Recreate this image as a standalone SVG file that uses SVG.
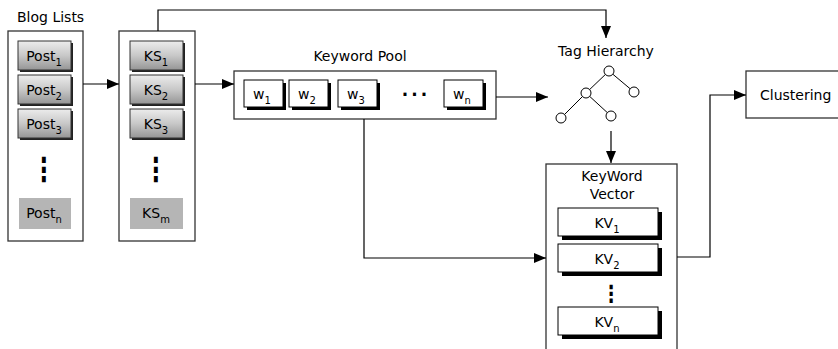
<svg xmlns="http://www.w3.org/2000/svg" width="838" height="349" viewBox="0 0 838 349">
  <defs>
    <linearGradient id="btnGrad" x1="0" y1="0" x2="0" y2="1">
      <stop offset="0" stop-color="#ececec"/>
      <stop offset="0.5" stop-color="#c8c8c8"/>
      <stop offset="1" stop-color="#959595"/>
    </linearGradient>
    <marker id="arrow" viewBox="0 0 12 10" refX="12" refY="5" markerWidth="12" markerHeight="10" markerUnits="userSpaceOnUse" orient="auto">
      <path d="M0,0 L12,5 L0,10 Z" fill="#000"/>
    </marker>
  </defs>
  <style>
    text { font-family: "DejaVu Sans", Verdana, sans-serif; fill: #000; }
    .title { font-size: 14px; }
    .lbl { font-size: 14px; text-anchor: middle; }
    .sub { font-size: 10px; }
    .dots { font-size: 17px; font-weight: bold; text-anchor: middle; }
    .vdots { font-size: 22px; font-weight: bold; text-anchor: middle; }
    .frame { fill: #fff; stroke: #333; stroke-width: 1.3; }
    .btn { fill: url(#btnGrad); stroke: #333; stroke-width: 1; }
    .btnShadow { fill: #222; }
    .flat { fill: #b5b5b5; }
    .cell { fill: #fff; stroke: #000; stroke-width: 1; }
    .cellShadow { fill: #000; }
    .conn { fill: none; stroke: #000; stroke-width: 1.2; }
    .tree line { stroke: #000; stroke-width: 1; }
    .tree circle { fill: #fff; stroke: #000; stroke-width: 1; }
  </style>

  <!-- Blog list column -->
  <g id="blog-lists">
    <text class="title" x="17" y="22">Blog Lists</text>
    <rect class="frame" x="8" y="31" width="75" height="210"/>
    <rect class="btnShadow" x="20" y="43" width="53" height="29"/>
    <rect class="btn" x="18" y="41" width="53" height="29"/>
    <text class="lbl" x="44" y="61">Post<tspan class="sub" dy="5">1</tspan></text>
    <rect class="btnShadow" x="20" y="77" width="53" height="29"/>
    <rect class="btn" x="18" y="75" width="53" height="29"/>
    <text class="lbl" x="44" y="95">Post<tspan class="sub" dy="5">2</tspan></text>
    <rect class="btnShadow" x="20" y="111" width="53" height="29"/>
    <rect class="btn" x="18" y="109" width="53" height="29"/>
    <text class="lbl" x="44" y="129">Post<tspan class="sub" dy="5">3</tspan></text>
    <text class="vdots" transform="translate(44,181) scale(1,1.5)">⋮</text>
    <rect class="flat" x="19" y="198" width="52" height="31"/>
    <text class="lbl" x="44" y="218">Post<tspan class="sub" dy="5">n</tspan></text>
  </g>

  <!-- Keyword set column -->
  <g id="keyword-sets">
    <rect class="frame" x="119" y="31" width="76" height="210"/>
    <rect class="btnShadow" x="132" y="43" width="53" height="29"/>
    <rect class="btn" x="130" y="41" width="53" height="29"/>
    <text class="lbl" x="156" y="61">KS<tspan class="sub" dy="5">1</tspan></text>
    <rect class="btnShadow" x="132" y="77" width="53" height="29"/>
    <rect class="btn" x="130" y="75" width="53" height="29"/>
    <text class="lbl" x="156" y="95">KS<tspan class="sub" dy="5">2</tspan></text>
    <rect class="btnShadow" x="132" y="111" width="53" height="29"/>
    <rect class="btn" x="130" y="109" width="53" height="29"/>
    <text class="lbl" x="156" y="129">KS<tspan class="sub" dy="5">3</tspan></text>
    <text class="vdots" transform="translate(156,181) scale(1,1.5)">⋮</text>
    <rect class="flat" x="130" y="198" width="53" height="31"/>
    <text class="lbl" x="156" y="218">KS<tspan class="sub" dy="5">m</tspan></text>
  </g>

  <!-- Keyword pool -->
  <g id="keyword-pool">
    <text class="title" x="360" y="61" text-anchor="middle">Keyword Pool</text>
    <rect class="frame" x="234" y="71" width="262" height="48"/>
    <rect class="cellShadow" x="247" y="83" width="39" height="27"/>
    <rect class="cell" x="244" y="80" width="39" height="27"/>
    <text class="lbl" x="262" y="99">w<tspan class="sub" dy="5">1</tspan></text>
    <rect class="cellShadow" x="292" y="83" width="39" height="27"/>
    <rect class="cell" x="289" y="80" width="39" height="27"/>
    <text class="lbl" x="307" y="99">w<tspan class="sub" dy="5">2</tspan></text>
    <rect class="cellShadow" x="341" y="83" width="39" height="27"/>
    <rect class="cell" x="338" y="80" width="39" height="27"/>
    <text class="lbl" x="356" y="99">w<tspan class="sub" dy="5">3</tspan></text>
    <text class="dots" x="416" y="96" letter-spacing="3">...</text>
    <rect class="cellShadow" x="447" y="83" width="39" height="27"/>
    <rect class="cell" x="444" y="80" width="39" height="27"/>
    <text class="lbl" x="462" y="99">w<tspan class="sub" dy="5">n</tspan></text>
  </g>

  <!-- Tag hierarchy -->
  <g id="tag-hierarchy" class="tree">
    <text class="title" x="606" y="56" text-anchor="middle">Tag Hierarchy</text>
    <line x1="609" y1="71" x2="586" y2="93"/>
    <line x1="609" y1="71" x2="634" y2="92"/>
    <line x1="586" y1="93" x2="561" y2="118"/>
    <line x1="586" y1="93" x2="611" y2="116"/>
    <circle cx="609" cy="71" r="5"/>
    <circle cx="586" cy="93" r="5"/>
    <circle cx="634" cy="92" r="5"/>
    <circle cx="561" cy="118" r="5"/>
    <circle cx="611" cy="116" r="5"/>
  </g>

  <!-- Keyword vector -->
  <g id="keyword-vector">
    <rect class="frame" x="546" y="164" width="131" height="200"/>
    <text class="title" x="612" y="181" text-anchor="middle">KeyWord</text>
    <text class="title" x="612" y="199" text-anchor="middle">Vector</text>
    <rect class="cellShadow" x="562" y="212" width="100" height="28"/>
    <rect class="cell" x="558" y="208" width="100" height="28"/>
    <text class="lbl" x="607" y="228">KV<tspan class="sub" dy="5">1</tspan></text>
    <rect class="cellShadow" x="562" y="248" width="100" height="28"/>
    <rect class="cell" x="558" y="244" width="100" height="28"/>
    <text class="lbl" x="607" y="264">KV<tspan class="sub" dy="5">2</tspan></text>
    <text class="vdots" transform="translate(611,302) scale(1,1.3)" style="font-size:18px">⋮</text>
    <rect class="cellShadow" x="562" y="311" width="100" height="28"/>
    <rect class="cell" x="558" y="307" width="100" height="28"/>
    <text class="lbl" x="607" y="327">KV<tspan class="sub" dy="5">n</tspan></text>
  </g>

  <!-- Clustering -->
  <g id="clustering">
    <rect class="frame" x="746" y="71" width="100" height="47"/>
    <text class="title" x="760" y="100">Clustering</text>
  </g>

  <!-- Connectors -->
  <g id="connectors">
    <line class="conn" x1="83" y1="84" x2="119" y2="84" marker-end="url(#arrow)"/>
    <line class="conn" x1="195" y1="84" x2="234" y2="84" marker-end="url(#arrow)"/>
    <path class="conn" d="M158,31 V10 H606 V38" marker-end="url(#arrow)"/>
    <line class="conn" x1="496" y1="97" x2="548" y2="97" marker-end="url(#arrow)"/>
    <path class="conn" d="M364,119 V258 H546" marker-end="url(#arrow)"/>
    <line class="conn" x1="611" y1="131" x2="611" y2="163" marker-end="url(#arrow)"/>
    <path class="conn" d="M677,257 H710 V95 H746" marker-end="url(#arrow)"/>
  </g>
</svg>
